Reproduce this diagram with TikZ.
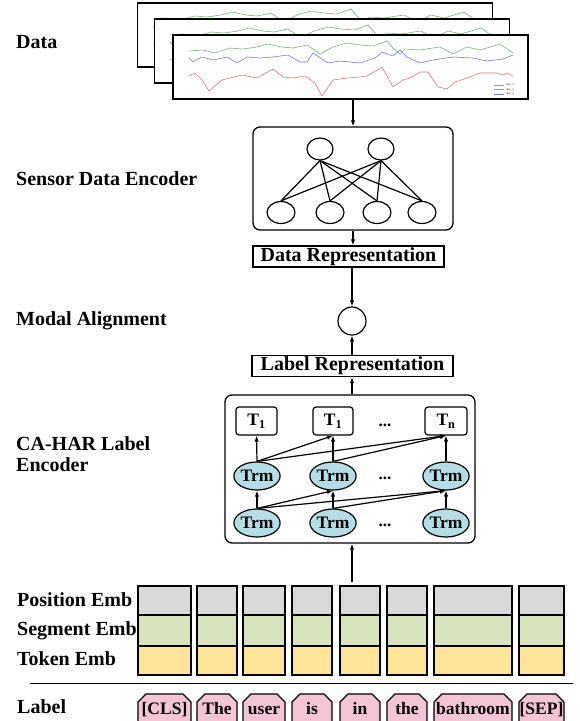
\documentclass[tikz,border=0pt]{standalone}
\usepackage{fontspec}
\setmainfont{Liberation Serif}
\usetikzlibrary{shapes.geometric,arrows.meta}

\definecolor{embgray}{HTML}{D9D9D9}
\definecolor{embgreen}{HTML}{D8E4BE}
\definecolor{embyellow}{HTML}{FFE599}
\definecolor{tokpink}{HTML}{F4C4D7}
\definecolor{trmblue}{HTML}{B6DCE6}
\definecolor{accx}{HTML}{E07878}
\definecolor{accy}{HTML}{78B478}
\definecolor{accz}{HTML}{7878E0}

% three accelerometer traces, drawn in the frame of the front chart
\newcommand\accchart{%
  \draw[accy,line width=0.6pt] plot coordinates {(189,51) (203,50) (215,53) (230,48) (243,49) (257,47) (268,44) (282,47) (293,48) (307,45) (320,54) (333,47) (347,43) (360,45) (373,46) (387,41) (393,48) (400,54) (405,49) (420,50) (433,48) (440,47) (453,54) (467,47) (480,50) (500,44) (513,53)};
  \draw[accz,line width=0.6pt] plot coordinates {(189,58) (193,62) (202,57) (213,60) (227,57) (237,63) (247,57) (260,58) (273,57) (288,55) (300,62) (307,62) (313,53) (328,63) (340,61) (360,63) (375,58) (382,52) (393,56) (400,50) (407,57) (420,63) (433,60) (453,57) (473,58) (487,61) (503,59) (513,55)};
  \draw[accx,line width=0.6pt] plot coordinates {(189,76) (195,73) (202,80) (209,91) (222,80) (230,78) (242,75) (257,78) (273,69) (283,77) (293,78) (305,76) (315,83) (322,96) (333,80) (347,78) (360,77) (367,76) (382,67) (393,87) (403,80) (410,78) (420,72) (428,72) (438,87) (447,89) (455,82) (467,78) (480,73) (497,73) (503,75) (507,73) (513,76)};
}

\begin{document}
\begin{tikzpicture}[x=1pt,y=-1pt,
  lbl/.style={anchor=base west,font=\bfseries\fontsize{20}{20.5}\selectfont,inner sep=0pt},
  chartframe/.style={draw,fill=white,line width=1.6pt,minimum width=355pt,minimum height=64pt,inner sep=0pt},
  repbox/.style={draw,line width=1.3pt,inner sep=0pt,minimum height=21pt,text height=13pt,text depth=4pt,font=\bfseries\fontsize{20}{20}\selectfont},
  neuron/.style={draw,ellipse,line width=1.2pt,inner sep=0pt},
  tbox/.style={draw,rounded corners=3pt,line width=1.2pt,minimum height=28pt,inner sep=0pt,font=\bfseries\fontsize{17.5}{17.5}\selectfont},
  trm/.style={draw,ellipse,fill=trmblue,line width=1.2pt,minimum width=45pt,minimum height=28pt,inner sep=0pt,font=\bfseries\fontsize{17.5}{17.5}\selectfont},
  dots/.style={font=\bfseries\fontsize{17}{17}\selectfont,inner sep=0pt},
  cell/.style={draw,line width=1.2pt},
  tokshape/.style={draw,fill=tokpink,line width=1.2pt},
  toktext/.style={anchor=base,inner sep=0pt,font=\bfseries\fontsize{17.5}{17.5}\selectfont},
  arr/.style={line width=1.2pt,-{Latex[length=6pt,width=4.5pt]}},
  link/.style={line width=1.2pt}]

\useasboundingbox (0,0) rectangle (579,721);
\path[clip] (0,0) rectangle (579,721);

% ---------- row labels ----------
\node[lbl] (lData) at (16,48) {Data};
\node[lbl] (lSensor) at (16,185) {Sensor Data Encoder};
\node[lbl] (lModal) at (16,325) {Modal Alignment};
\node[lbl,align=left] (lCahar) at (16,471) {CA-HAR Label\\Encoder};
\node[lbl] (lPos) at (17,606) {Position Emb};
\node[lbl] (lSeg) at (17,635) {Segment Emb};
\node[lbl] (lTok) at (17,665) {Token Emb};
\node[lbl] (lLabel) at (17,713) {Label};

% ---------- stacked sensor charts ----------
\node[chartframe,line width=1.8pt] (frameA) at (315,35) {};
\begin{scope}[shift={(-36,-32)}]\accchart\end{scope}
\node[chartframe,line width=1.8pt] (frameB) at (332,51) {};
\begin{scope}[shift={(-19,-16)}]\accchart\end{scope}
\node[chartframe] (frameC) at (350.5,67) {};
\accchart
% legend
\draw[accx,line width=0.5pt] (494,85) -- (504,85);
\draw[accy,line width=0.5pt] (494,89.5) -- (504,89.5);
\draw[accz,line width=0.5pt] (494,94) -- (504,94);
\node[anchor=west,inner sep=0pt,font=\fontsize{3}{3}\selectfont] (legx) at (506,85) {Acc\_x};
\node[anchor=west,inner sep=0pt,font=\fontsize{3}{3}\selectfont] (legy) at (506,89.5) {Acc\_y};
\node[anchor=west,inner sep=0pt,font=\fontsize{3}{3}\selectfont] (legz) at (506,94) {Acc\_z};

% ---------- sensor data encoder ----------
\node[draw,rounded corners=7pt,line width=1.3pt,minimum width=200pt,minimum height=103pt,inner sep=0pt] (enc) at (353,178.5) {};
\node[neuron,minimum width=26pt,minimum height=22pt] (h1) at (320,149) {};
\node[neuron,minimum width=26pt,minimum height=22pt] (h2) at (381,149) {};
\node[neuron,minimum width=28pt,minimum height=22pt] (i1) at (281,212.5) {};
\node[neuron,minimum width=28pt,minimum height=22pt] (i2) at (330,212.5) {};
\node[neuron,minimum width=28pt,minimum height=22pt] (i3) at (377,212.5) {};
\node[neuron,minimum width=28pt,minimum height=22pt] (i4) at (422,212.5) {};
\foreach \h in {h1,h2}
  \foreach \i in {i1,i2,i3,i4}
    \draw[link] (\h.south) -- (\i.north);

\draw[arr] (enc.north |- frameC.south) -- (enc.north);

% ---------- representations and alignment ----------
\node[repbox,minimum width=191pt] (datarep) at (348.5,256.5) {Data Representation};
\node[draw,circle,line width=1.2pt,minimum size=28pt,inner sep=0pt] (align) at (352,321) {};
\node[repbox,minimum width=201pt] (labelrep) at (352.5,366) {Label Representation};

\draw[arr] (enc.south) -- (enc.south |- datarep.north);
\draw[arr] (align.north |- datarep.south) -- (align.north);
\draw[arr] (labelrep.north -| align.south) -- (align.south);

% ---------- CA-HAR label encoder ----------
\node[draw,rounded corners=7pt,line width=1.3pt,minimum width=250pt,minimum height=148pt,inner sep=0pt] (cahar) at (350,469) {};
\draw[arr] (cahar.north -| align.south) -- (labelrep.south -| align.south);

\node[tbox,minimum width=41pt] (o1) at (256.5,421) {T\textsubscript{1}};
\node[tbox,minimum width=40pt] (o2) at (333,421) {T\textsubscript{1}};
\node[tbox,minimum width=42pt] (o3) at (446,421) {T\textsubscript{n}};
\node[dots] (od) at (385,425) {...};

\node[trm] (m1) at (257,476) {Trm};
\node[trm] (m2) at (333,476) {Trm};
\node[trm] (m3) at (446,476) {Trm};
\node[dots] (md) at (385,478) {...};

\node[trm] (b1) at (257,523) {Trm};
\node[trm] (b2) at (333,523) {Trm};
\node[trm] (b3) at (446,523) {Trm};
\node[dots] (bd) at (385,525) {...};

\foreach \a/\b in {m1/o1,m2/o2,m3/o3,m1/o2,m1/o3,m2/o3,
                   b1/m1,b2/m2,b3/m3,b1/m2,b1/m3,b2/m3}
  \draw[arr] (\a.north) -- (\b.south);

\coordinate (embtop) at (352,582);
\draw[arr] (embtop) -- (embtop |- cahar.south);

% ---------- embeddings and tokens ----------
\foreach \xl/\xr/\t/\n in {138/191/{[CLS]}/1, 197/237/The/2, 243/285/user/3,
    292/332/is/4, 340/380/in/5, 387/427/the/6, 434/512/bathroom/7, 519/564/{[SEP]}/8} {
  \draw[cell,fill=embgray] (\xl,586) rectangle (\xr,615);
  \draw[cell,fill=embgreen] (\xl,615) rectangle (\xr,646);
  \draw[cell,fill=embyellow] (\xl,646) rectangle (\xr,675);
  \pgfmathsetmacro\colmid{(\xl+\xr)/2}
  % token tag with cut top corners, running off the lower edge
  \draw[tokshape] (\xl,735) -- (\xl,702) -- ({\xl+8},694) -- ({\xr-8},694)
    -- (\xr,702) -- (\xr,735);
  \node[toktext] (tok\n) at (\colmid,714) {\t};
}

\draw[line width=1.2pt] (30,683.5) -- (573,683.5);

\end{tikzpicture}
\end{document}
